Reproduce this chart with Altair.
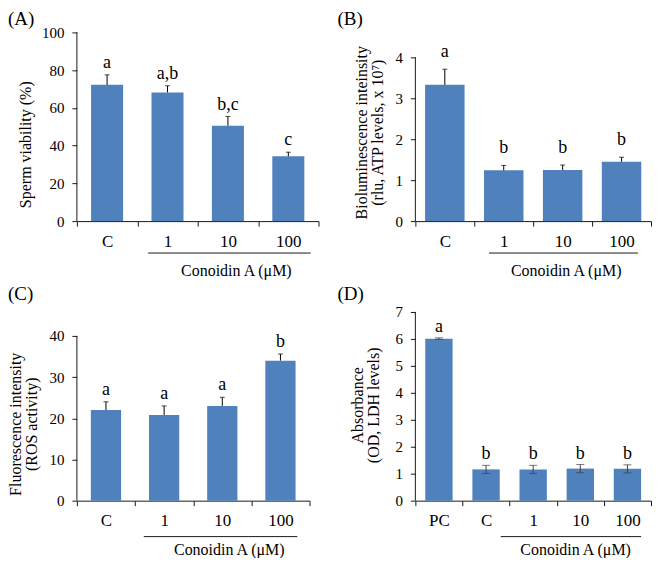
import altair as alt
import pandas as pd

FONT = "Liberation Serif"
BLUE = "#4F81BD"
AX = "#1a1a1a"

GROUP_LABEL = "Conoidin A (\u03bcM)"

# Panel A – sperm viability
a_cats = ["C", "1", "10", "100"]
a_vals = [72.2, 68.2, 50.5, 34.3]
a_err = [5.3, 3.5, 4.9, 2.2]
a_lab = ["a", "a,b", "b,c", "c"]
a_ticks = [0, 20, 40, 60, 80, 100]

# Panel B – ATP bioluminescence
b_cats = ["C", "1", "10", "100"]
b_vals = [3.33, 1.24, 1.25, 1.45]
b_err = [0.38, 0.12, 0.12, 0.11]
b_lab = ["a", "b", "b", "b"]
b_ticks = [0, 1, 2, 3, 4]

# Panel C – ROS fluorescence
c_cats = ["C", "1", "10", "100"]
c_vals = [22.0, 20.8, 23.0, 34.0]
c_err = [2.0, 2.2, 2.1, 1.6]
c_lab = ["a", "a", "a", "b"]
c_ticks = [0, 10, 20, 30, 40]

# Panel D – LDH absorbance
d_cats = ["PC", "C", "1", "10", "100"]
d_vals = [6.01, 1.16, 1.16, 1.19, 1.18]
d_err = [0.03, 0.15, 0.15, 0.15, 0.15]
d_lab = ["a", "b", "b", "b", "b"]
d_ticks = [0, 1, 2, 3, 4, 5, 6, 7]


def panel(cats, vals, errs, labs, lbl, *, width, height, ymax, ticks, ytitle,
          tx, ty, frac, both, dy, tdx, toff, ustart, uend, tpos, uy, ty2,
          cap, ecolor):
    df = pd.DataFrame({"cat": cats, "val": vals, "err": errs, "lab": labs})
    df["lo"] = df["val"] - df["err"] if both else df["val"]
    df["hi"] = df["val"] + df["err"]
    one = pd.DataFrame({"k": [0]})

    xscale = alt.Scale(domain=cats, paddingInner=0, paddingOuter=0)
    xaxis = alt.Axis(title=None, labelAngle=0, tickBand="extent",
                     labelPadding=7, labelFontSize=17, labelOverlap=False)
    yaxis = alt.Axis(values=ticks, domain=False, title=ytitle, titleX=tx,
                     titleY=ty, titleAngle=270, titleAlign="center",
                     titleBaseline="middle", titleLineHeight=16,
                     labelPadding=8, labelFontSize=15, labelOverlap=False,
                     labelBound=False, tickCount=len(ticks))
    yscale = alt.Scale(domain=[0, ymax], nice=False)

    def X(f):
        return alt.X(f, scale=xscale, axis=xaxis)

    def Y(f):
        return alt.Y(f, scale=yscale, axis=yaxis)

    base = alt.Chart(df)
    bars = base.mark_bar(color=BLUE, width=alt.RelativeBandSize(frac)).encode(
        x=X("cat:N"), y=Y("val:Q"))
    err = base.mark_rule(color=ecolor, strokeWidth=1).encode(
        x=X("cat:N"), y=Y("lo:Q"), y2="hi:Q")
    cap_hi = base.mark_tick(orient="horizontal", size=cap, thickness=1,
                            color=ecolor).encode(x=X("cat:N"), y=Y("hi:Q"))
    layers = [bars, err, cap_hi]
    if both:
        layers.append(base.mark_tick(orient="horizontal", size=cap, thickness=1,
                                     color=ecolor).encode(
            x=X("cat:N"), y=Y("lo:Q")))
    text = base.mark_text(font=FONT, fontSize=18, baseline="alphabetic", dy=dy,
                          color="black").encode(
        x=X("cat:N"), y=Y("hi:Q"), text="lab:N")
    layers.append(text)
    yline = alt.Chart(one).mark_rule(color=AX, strokeWidth=1).encode(
        x=alt.value(0),
        y=alt.YDatum(ticks[0], type="quantitative", scale=yscale, axis=yaxis),
        y2=alt.Y2Datum(ticks[-1]))
    layers.append(yline)
    under = alt.Chart(one).mark_rule(color=AX, strokeWidth=1).encode(
        x=alt.XDatum(ustart[0], type="nominal", bandPosition=ustart[1],
                     scale=xscale, axis=xaxis),
        x2=alt.X2Datum(uend[0], bandPosition=uend[1]),
        y=alt.value(height + uy))
    layers.append(under)
    gtext = alt.Chart(one).mark_text(font=FONT, fontSize=16, baseline="middle",
                                     color="black").encode(
        x=alt.XDatum(tpos[0], type="nominal", bandPosition=tpos[1],
                     scale=xscale, axis=xaxis),
        y=alt.value(height + ty2), text=alt.value(GROUP_LABEL))
    layers.append(gtext)
    return alt.layer(*layers).properties(
        width=width, height=height,
        title=alt.TitleParams(lbl, dx=tdx, offset=toff))


H = 189
pA = panel(a_cats, a_vals, a_err, a_lab, "(A)", width=242, height=H, ymax=100,
           ticks=a_ticks, ytitle="Sperm viability (%)", tx=-51, ty=112,
           frac=0.53, both=False, dy=-7, tdx=-69, toff=-4,
           ustart=("1", 0.18), uend=("100", 0.87), tpos=("10", 0.64),
           uy=32, ty2=50, cap=5, ecolor="black")
pB = panel(b_cats, b_vals, b_err, b_lab, "(B)", width=236, height=H,
           ymax=4 * 189 / 164, ticks=b_ticks,
           ytitle=["Bioluminescence inteinsity", "(rlu, ATP levels, x 10\u2077)"],
           tx=-54, ty=100, frac=0.67, both=False, dy=-12, tdx=-78, toff=3.5,
           ustart=("1", 0.25), uend=("100", 0.78), tpos=("10", 0.56),
           uy=32, ty2=50, cap=5, ecolor="black")
pC = panel(c_cats, c_vals, c_err, c_lab, "(C)", width=233, height=H,
           ymax=40 * 189 / 165, ticks=c_ticks,
           ytitle=["Fluorescence intensity", "(ROS activity)"],
           tx=-61, ty=112, frac=0.52, both=False, dy=-7, tdx=-69, toff=8,
           ustart=("1", 0.15), uend=("100", 0.79), tpos=("10", 0.62),
           uy=36, ty2=49, cap=5, ecolor="black")
pD = panel(d_cats, d_vals, d_err, d_lab, "(D)", width=236, height=H, ymax=7,
           ticks=d_ticks, ytitle=["Absorbance", "(OD, LDH levels)"],
           tx=-58, ty=93, frac=0.58, both=True, dy=-6, tdx=-78, toff=1,
           ustart=("C", 0.81), uend=("100", 0.79), tpos=("10", 0.40),
           uy=36, ty2=49, cap=8, ecolor="#404040")

chart = alt.concat(pA, pB, pC, pD, columns=2, spacing={"row": 6, "column": 18},
                   align="each", bounds="full").properties(
    padding={"top": 1, "left": 0, "right": 0, "bottom": 0})
chart = chart.configure_view(stroke=None).configure_axis(
    labelFont=FONT, titleFont=FONT, labelColor="black", titleColor="black",
    titleFontSize=16, titleFontWeight="normal", domainColor=AX, tickColor=AX,
    grid=False, tickSize=5, domainWidth=1, tickWidth=1
).configure_title(font=FONT, fontSize=19, fontWeight="normal", color="black",
                  anchor="start", frame="group")

chart.save("out.html", embed_options={"renderer": "svg", "actions": False})
